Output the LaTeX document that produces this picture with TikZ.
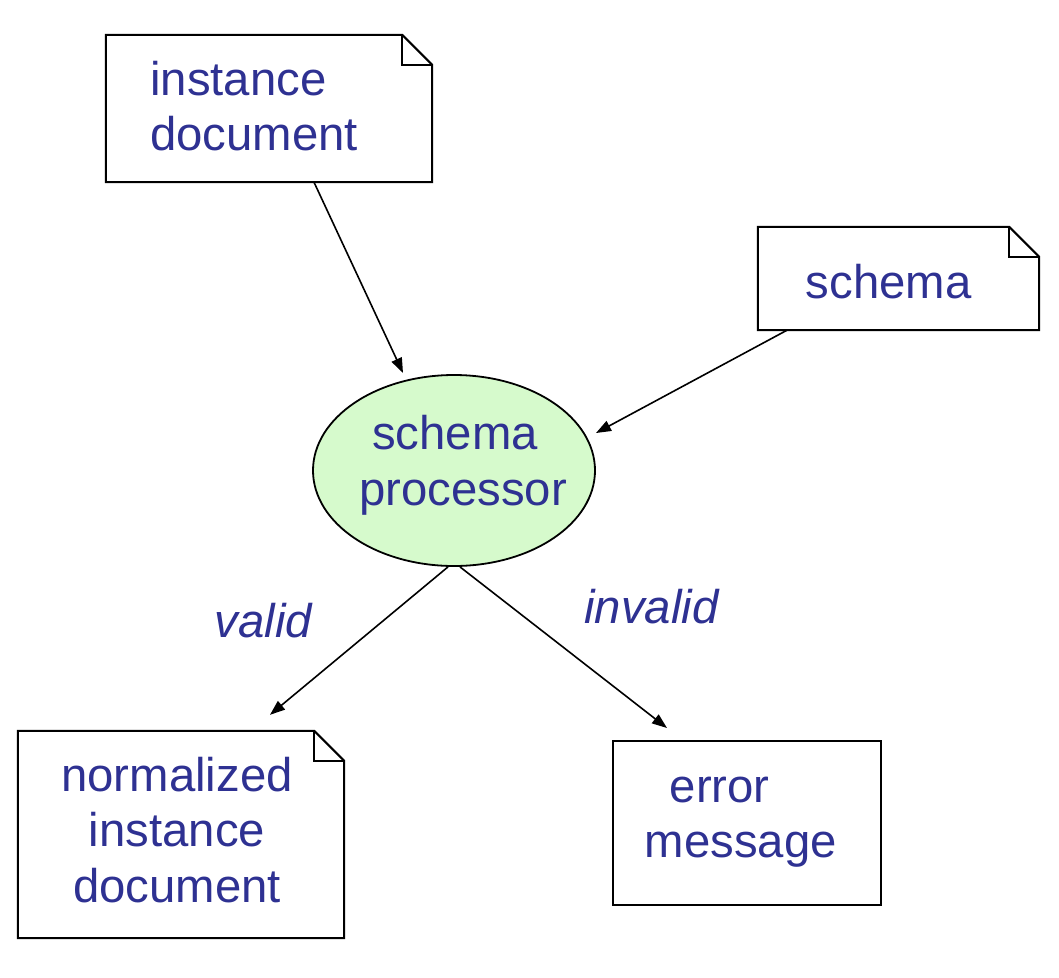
\documentclass[tikz,border=0pt]{standalone}
\usepackage{fontspec}
\setmainfont{Liberation Sans}
\usetikzlibrary{arrows.meta,calc,shapes.geometric}
\definecolor{txtblue}{RGB}{46,49,146}
\definecolor{procgreen}{RGB}{214,250,204}
\begin{document}
\begin{tikzpicture}[x=1pt,y=-1pt,
  boxline/.style={draw=black,line width=2pt,line join=miter},
  shapebox/.style={rectangle,draw=none,inner sep=0pt},
  lbl/.style={text=txtblue,inner sep=0pt,font=\fontsize{47.3}{55.5}\selectfont},
  ilbl/.style={lbl,font=\fontsize{47.3}{55.5}\selectfont\itshape},
  conn/.style={draw=black,line width=1.6pt,-{Triangle[length=15pt,width=11pt]}}
]
\useasboundingbox (0,0) rectangle (1059,977);
\fill[white] (0,0) rectangle (1059,977);

% shapes
\node[shapebox,minimum width=326pt,minimum height=147pt] (idoc) at (269,108.5) {};
\node[shapebox,minimum width=281pt,minimum height=103pt] (schema) at (898.5,278.5) {};
\node[ellipse,draw=black,line width=1.8pt,fill=procgreen,minimum width=282pt,minimum height=191pt,inner sep=0pt] (proc) at (454,470.5) {};
\node[shapebox,minimum width=326pt,minimum height=207pt] (ndoc) at (181,834.5) {};
\node[rectangle,boxline,minimum width=268pt,minimum height=164pt,inner sep=0pt] (err) at (747,823) {};

% folded-corner outlines
\foreach \n in {idoc,schema,ndoc}{
  \draw[boxline] (\n.north west) -- ($(\n.north east)+(-30,0)$) -- ($(\n.north east)+(0,30)$) -- (\n.south east) -- (\n.south west) -- cycle;
  \draw[boxline] ($(\n.north east)+(-30,0)$) -- ++(0,30) -- ++(30,0);
}

% texts
\node[lbl,anchor=west,align=left] (idoct) at (150,106) {instance\\document};
\node[lbl] (schemat) at (888.5,282) {schema};
\node[lbl,align=left,anchor=west] (proct) at (359,465.5) {\hspace*{13pt}schema\\processor};
\node[lbl,align=center] (ndoct) at (177,830) {normalized\\instance\\document};
\node[lbl,anchor=west,align=left] (errt) at (644.5,822) {\hspace*{25pt}error\\message};
\node[ilbl] (valid) at (263.5,621) {valid};
\node[ilbl] (invalid) at (651.5,607) {invalid};

% connectors
\draw[conn] ($(idoc.south)+(45,0)$) -- ($(proc.center)+(-51,-97.5)$);
\draw[conn] ($(schema.south)+(-111.5,0)$) -- ($(proc.center)+(142,-37.5)$);
\draw[conn] ($(proc.south)+(-6,0)$) -- ($(ndoc.north)+(89,-16)$);
\draw[conn] ($(proc.south)+(6,0)$) -- ($(err.north)+(-80,-12)$);
\end{tikzpicture}
\end{document}
